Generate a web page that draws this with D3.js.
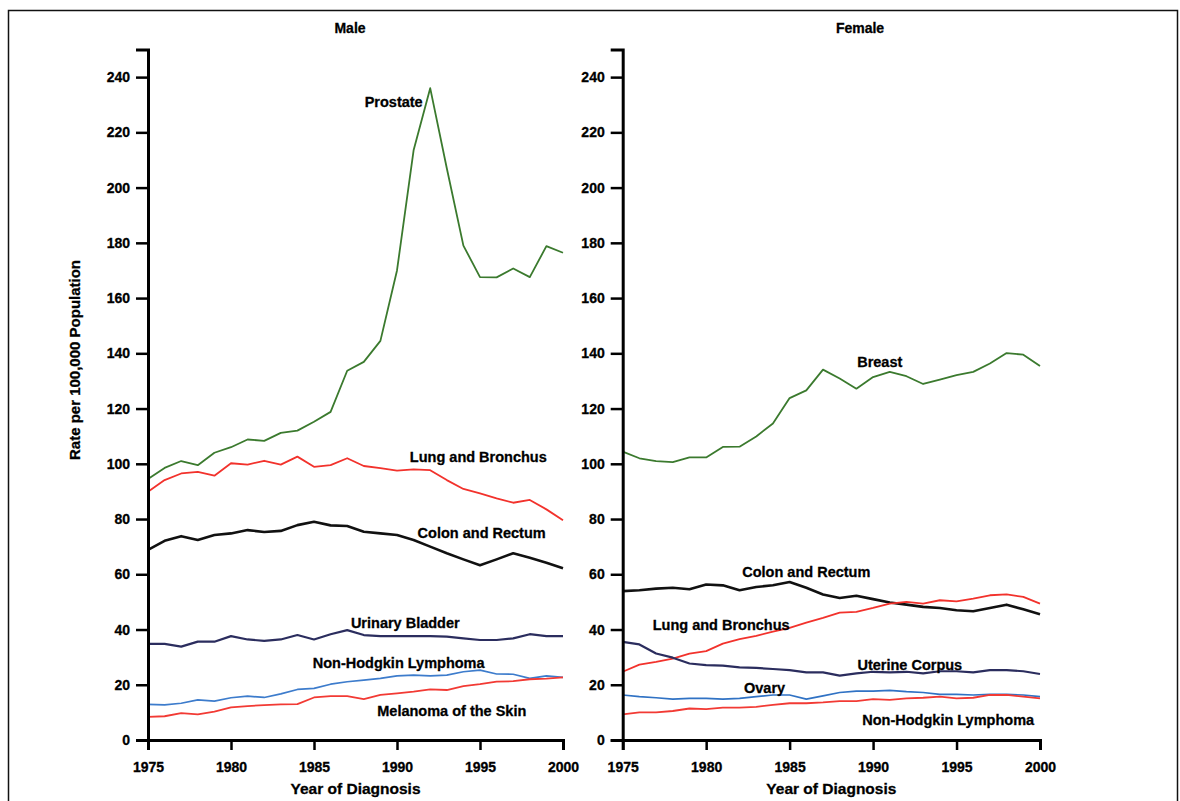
<!DOCTYPE html>
<html>
<head>
<meta charset="utf-8">
<script src="https://cdn.jsdelivr.net/npm/d3@7"></script>
<style>
    body { margin: 0; background: #fff; }
    svg { display: block; }
</style>
</head>
<body>
<svg id="chart"></svg>
<script>
const years = [1975, 1976, 1977, 1978, 1979, 1980, 1981, 1982, 1983, 1984, 1985, 1986, 1987,
    1988, 1989, 1990, 1991, 1992, 1993, 1994, 1995, 1996, 1997, 1998, 1999, 2000];
const yearTicks = [1975, 1980, 1985, 1990, 1995, 2000];
const rateTicks = [0, 20, 40, 60, 80, 100, 120, 140, 160, 180, 200, 220, 240];

// male
const prostate = [94.5, 98.5, 101, 99.5, 104, 106, 108.8, 108.3, 111.2, 112, 115.2, 118.8, 133.7,
    136.9, 144.5, 170, 213.5, 236, 207, 179, 167.6, 167.5, 170.7, 167.6, 178.8, 176.4];
const lungMale = [89.9, 94.1, 96.5, 97.1, 95.7, 100.2, 99.7, 101.1, 99.7, 102.6, 98.9, 99.5, 102,
    99.2, 98.4, 97.5, 98, 97.7, 94.1, 90.9, 89.3, 87.5, 85.9, 86.9, 83.5, 79.6];
const colonMale = [68.8, 72.1, 73.8, 72.4, 74.2, 74.8, 76, 75.3, 75.7, 77.8, 79, 77.7, 77.5,
    75.4, 74.8, 74.2, 72.4, 70, 67.6, 65.4, 63.3, 65.4, 67.6, 66, 64.2, 62.2];
const bladder = [34.8, 34.8, 33.8, 35.6, 35.6, 37.6, 36.4, 35.9, 36.4, 38, 36.4, 38.3, 39.8,
    38, 37.6, 37.6, 37.6, 37.6, 37.4, 36.8, 36.2, 36.2, 36.8, 38.3, 37.6, 37.6];
const nhlMale = [12.9, 12.7, 13.3, 14.5, 14.1, 15.3, 15.9, 15.4, 16.7, 18.3, 18.7, 20.2, 21.1,
    21.7, 22.3, 23.2, 23.5, 23.2, 23.5, 24.7, 25.3, 23.9, 23.8, 22.3, 23.2, 22.7];
const melanoma = [8.4, 8.6, 9.7, 9.3, 10.3, 11.8, 12.3, 12.6, 12.9, 13, 15.4, 15.9, 15.9,
    14.8, 16.3, 16.9, 17.5, 18.3, 18.1, 19.5, 20.2, 21.1, 21.3, 22, 22.2, 22.7];

// female
const breast = [104.4, 102, 101, 100.6, 102.3, 102.3, 106.1, 106.2, 109.9, 114.6, 123.8, 126.6, 134.1,
    130.9, 127.2, 131.4, 133.3, 131.7, 128.9, 130.5, 132.1, 133.3, 136.3, 140.1, 139.5, 135.4];
const colonFemale = [53.9, 54.2, 54.8, 55.1, 54.6, 56.3, 56, 54.2, 55.4, 56, 57.2, 55.1, 52.7,
    51.4, 52.2, 51, 49.8, 49, 48.2, 47.8, 47, 46.6, 47.8, 49, 47.3, 45.5];
const lungFemale = [24.7, 27.3, 28.3, 29.5, 31.3, 32.2, 34.9, 36.5, 37.7, 39.2, 40.6, 42.5, 44.2,
    46.1, 46.4, 47.8, 49.4, 50, 49.4, 50.6, 50.2, 51.2, 52.4, 52.7, 51.8, 49.4];
const uterine = [35.5, 34.6, 31.3, 29.8, 27.7, 27.1, 26.9, 26.3, 26.1, 25.7, 25.3, 24.5, 24.5,
    23.3, 24.1, 24.7, 24.5, 24.7, 24.1, 24.9, 24.9, 24.5, 25.3, 25.3, 24.9, 23.9];
const ovary = [16.3, 15.7, 15.3, 14.8, 15.1, 15.1, 14.8, 15.1, 15.7, 16.3, 16.3, 14.8, 16,
    17.2, 17.7, 17.7, 18, 17.5, 17.2, 16.5, 16.5, 16.3, 16.5, 16.5, 16.3, 15.7];
const nhlFemale = [9.3, 10, 10, 10.5, 11.4, 11.2, 11.7, 11.7, 12, 12.7, 13.3, 13.3, 13.6,
    14.1, 14.1, 14.8, 14.5, 15.1, 15.3, 15.7, 15.1, 15.3, 16.3, 16.3, 15.7, 15.1];

// series names and where their labels sit (year, rate)
const maleNames = ["Prostate", "Lung and Bronchus", "Colon and Rectum", "Urinary Bladder",
    "Non-Hodgkin Lymphoma", "Melanoma of the Skin"];
const maleLabelAt = [[1989.8, 231], [1994.9, 102.5], [1995.1, 75], [1990.5, 42.4], [1990.1, 27.9], [1993.3, 10.5]];
const femaleNames = ["Breast", "Colon and Rectum", "Lung and Bronchus", "Uterine Corpus",
    "Ovary", "Non-Hodgkin Lymphoma"];
const femaleLabelAt = [[1990.4, 136.9], [1986, 60.9], [1980.9, 41.8], [1992.2, 27.3], [1983.5, 19], [1994.5, 7.1]];

const width = 1180;
const height = 801;
const font = "'Liberation Sans', Arial, sans-serif";

const svg = d3.select("#chart")
    .attr("width", width)
    .attr("height", height)
    .style("font-family", font);

svg.append("rect")
    .attr("x", 8.5)
    .attr("y", 10.5)
    .attr("width", 1169)
    .attr("height", 820)
    .attr("fill", "none")
    .attr("stroke", "#111")
    .attr("stroke-width", 1.5);

const y = d3.scaleLinear().domain([0, 250]).range([740, 49.5]);

function panel(opts) {
    const x = d3.scaleLinear().domain([1975, 2000]).range(opts.range);
    const g = svg.append("g");

    const line = d3.line()
        .x((d, i) => x(years[i]))
        .y(d => y(d));

    opts.series.forEach((s, i) => {
        g.append("path")
            .datum(s)
            .attr("fill", "none")
            .attr("stroke", opts.colors[i])
            .attr("stroke-width", opts.widths[i])
            .attr("stroke-linejoin", "round")
            .attr("d", line);
    });

    // y axis with minor ticks every 10
    const yAxis = g.append("g").attr("transform", `translate(${x(1975)},0)`);
    yAxis.call(d3.axisLeft(y).tickValues(d3.range(0, 251, 10)).tickSize(6).tickFormat(""));
    yAxis.call(d3.axisLeft(y).tickValues(rateTicks).tickSize(12).tickPadding(6).tickFormat(d3.format("d")));

    const xAxis = g.append("g").attr("transform", `translate(0,${y(0)})`);
    xAxis.call(d3.axisBottom(x).tickValues(years).tickSize(7).tickFormat(""));
    xAxis.call(d3.axisBottom(x).tickValues(yearTicks).tickSize(10).tickPadding(12).tickFormat(d3.format("d")));

    g.selectAll(".domain").attr("stroke", "#000").attr("stroke-width", 3);
    g.selectAll(".tick line").attr("stroke", "#000").attr("stroke-width", 2.5);
    g.selectAll(".tick text")
        .attr("fill", "#000")
        .attr("stroke", "#000")
        .attr("stroke-width", 0.3)
        .style("font-family", font)
        .style("font-size", "14px")
        .style("font-weight", "bold");

    g.append("text")
        .attr("x", opts.titleX)
        .attr("y", 28)
        .attr("dy", "0.35em")
        .attr("text-anchor", "middle")
        .attr("stroke", "#000")
        .attr("stroke-width", 0.3)
        .style("font-size", "14px")
        .style("font-weight", "bold")
        .text(opts.title);

    g.append("text")
        .attr("x", (opts.range[0] + opts.range[1]) / 2)
        .attr("y", 789)
        .attr("dy", "0.35em")
        .attr("text-anchor", "middle")
        .attr("stroke", "#000")
        .attr("stroke-width", 0.3)
        .style("font-size", "15.5px")
        .style("font-weight", "bold")
        .text("Year of Diagnosis");

    opts.names.forEach((n, i) => {
        g.append("text")
            .attr("x", x(opts.labelAt[i][0]))
            .attr("y", y(opts.labelAt[i][1]))
            .attr("dy", "0.35em")
            .attr("text-anchor", "middle")
            .attr("stroke", "#000")
            .attr("stroke-width", 0.3)
            .style("font-size", "14.5px")
            .style("font-weight", "bold")
            .text(n);
    });
}

panel({
    range: [148, 563],
    title: "Male",
    titleX: 350,
    series: [prostate, lungMale, colonMale, bladder, nhlMale, melanoma],
    colors: ["#3b7a2e", "#f2322c", "#111111", "#2b2d5e", "#3d7ccc", "#f23a34"],
    widths: [1.8, 1.8, 2.6, 2.2, 1.7, 1.8],
    names: maleNames,
    labelAt: maleLabelAt
});

panel({
    range: [622.7, 1040],
    title: "Female",
    titleX: 860,
    series: [breast, colonFemale, lungFemale, uterine, ovary, nhlFemale],
    colors: ["#3b7a2e", "#111111", "#f2322c", "#2b2d5e", "#3072c4", "#f23a34"],
    widths: [1.8, 2.6, 1.8, 2.2, 1.7, 1.8],
    names: femaleNames,
    labelAt: femaleLabelAt
});

svg.append("text")
    .attr("transform", "translate(75,360) rotate(-90)")
    .attr("dy", "0.35em")
    .attr("text-anchor", "middle")
    .attr("stroke", "#000")
    .attr("stroke-width", 0.3)
    .style("font-size", "15px")
    .style("font-weight", "bold")
    .text("Rate per 100,000 Population");
</script>
</body>
</html>
